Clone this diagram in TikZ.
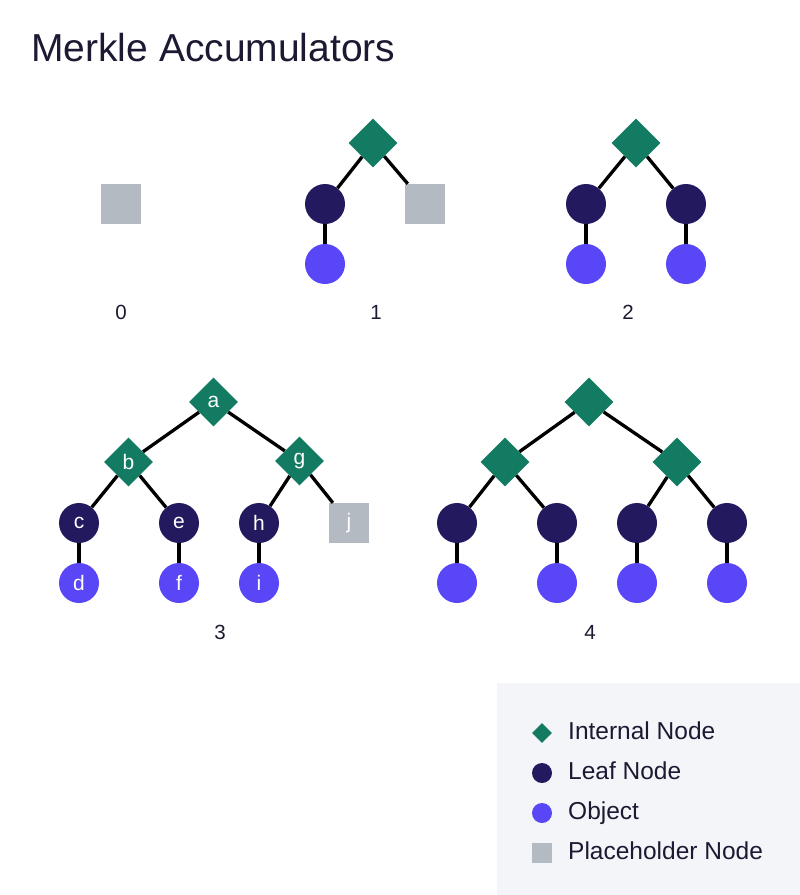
\documentclass[tikz,border=0pt]{standalone}
\usepackage{fontspec}
\setmainfont{Liberation Sans}
\usetikzlibrary{shapes.geometric}
\definecolor{intc}{HTML}{127B62}
\definecolor{leafc}{HTML}{22195E}
\definecolor{objc}{HTML}{5946F6}
\definecolor{phc}{HTML}{B4BAC1}
\definecolor{txtc}{HTML}{1C1A33}
\definecolor{legbg}{HTML}{F4F5F9}
\tikzset{
  intn/.style={diamond, aspect=1, fill=intc, minimum size=49pt, inner sep=0pt, text=white, font=\fontsize{21}{24}\selectfont},
  leafn/.style={circle, fill=leafc, minimum size=40pt, inner sep=0pt, text=white, font=\fontsize{21}{24}\selectfont},
  objn/.style={circle, fill=objc, minimum size=40pt, inner sep=0pt, text=white, font=\fontsize{21}{24}\selectfont},
  phn/.style={rectangle, fill=phc, minimum size=40pt, inner sep=0pt, text=white, font=\fontsize{21}{24}\selectfont},
  edge/.style={line width=3.3pt, black},
  lbl/.style={text=txtc, font=\fontsize{20.5}{24}\selectfont},
  legtxt/.style={text=txtc, font=\fontsize{24.5}{28}\selectfont, anchor=base west, inner sep=0pt},
}
\begin{document}
\begin{tikzpicture}[x=1pt,y=-1pt]
\useasboundingbox (0,0) rectangle (800,895);
\fill[white] (0,0) rectangle (800,895);
\node[anchor=base west, text=txtc, font=\fontsize{39}{44}\selectfont, inner sep=0pt] (title) at (31,61) {Merkle Accumulators};

% tree 0
\node[phn] (p0) at (121,204) {};
\node[lbl] (l0) at (121,312) {0};

% tree 1
\node[intn] (r1) at (373,143) {};
\node[leafn] (a1) at (325,204) {};
\node[objn] (o1) at (325,264) {};
\node[phn] (p1) at (425,204) {};
\node[lbl] (l1) at (376,312) {1};

% tree 2
\node[intn] (r2) at (636,143) {};
\node[leafn] (a2) at (586,204) {};
\node[leafn] (b2) at (686,204) {};
\node[objn] (o2a) at (586,264) {};
\node[objn] (o2b) at (686,264) {};
\node[lbl] (l2) at (628,312) {2};

% tree 3
\node[intn] (na) at (213.5,402) {a};
\node[intn] (nb) at (128.5,462) {b};
\node[intn] (ng) at (299.5,461) {g};
\node[leafn] (nc) at (79,523) {c};
\node[leafn] (ne) at (179,523) {e};
\node[leafn] (nh) at (259,523) {h};
\node[phn] (nj) at (349,523) {j};
\node[objn] (nd) at (79,583) {d};
\node[objn] (nf) at (179,583) {f};
\node[objn] (ni) at (259,583) {i};
\node[lbl] (l3) at (220,632) {3};

% tree 4
\node[intn] (r4) at (589,402) {};
\node[intn] (x4) at (505,462) {};
\node[intn] (y4) at (677,462) {};
\node[leafn] (q1) at (457,523) {};
\node[leafn] (q2) at (557,523) {};
\node[leafn] (q3) at (637,523) {};
\node[leafn] (q4) at (727,523) {};
\node[objn] (s1) at (457,583) {};
\node[objn] (s2) at (557,583) {};
\node[objn] (s3) at (637,583) {};
\node[objn] (s4) at (727,583) {};
\node[lbl] (l4) at (590,632) {4};

% edges
\draw[edge] (r1) -- (a1);
\draw[edge] (r1) -- (p1);
\draw[edge] (a1) -- (o1);
\draw[edge] (r2) -- (a2);
\draw[edge] (r2) -- (b2);
\draw[edge] (a2) -- (o2a);
\draw[edge] (b2) -- (o2b);
\draw[edge] (na) -- (nb);
\draw[edge] (na) -- (ng);
\draw[edge] (nb) -- (nc);
\draw[edge] (nb) -- (ne);
\draw[edge] (ng) -- (nh);
\draw[edge] (ng) -- (nj);
\draw[edge] (nc) -- (nd);
\draw[edge] (ne) -- (nf);
\draw[edge] (nh) -- (ni);
\draw[edge] (r4) -- (x4);
\draw[edge] (r4) -- (y4);
\draw[edge] (x4) -- (q1);
\draw[edge] (x4) -- (q2);
\draw[edge] (y4) -- (q3);
\draw[edge] (y4) -- (q4);
\draw[edge] (q1) -- (s1);
\draw[edge] (q2) -- (s2);
\draw[edge] (q3) -- (s3);
\draw[edge] (q4) -- (s4);

% legend
\fill[legbg] (497,683) rectangle (800,895);
\node[diamond, aspect=1, fill=intc, minimum size=20pt, inner sep=0pt] (k1) at (542,733) {};
\node[circle, fill=leafc, minimum size=20pt, inner sep=0pt] (k2) at (542,773) {};
\node[circle, fill=objc, minimum size=20pt, inner sep=0pt] (k3) at (542,813) {};
\node[rectangle, fill=phc, minimum size=20pt, inner sep=0pt] (k4) at (542,853) {};
\node[legtxt] (t1) at (568,739.5) {Internal Node};
\node[legtxt] (t2) at (568,779.5) {Leaf Node};
\node[legtxt] (t3) at (568,819.5) {Object};
\node[legtxt] (t4) at (568,859.5) {Placeholder Node};
\end{tikzpicture}
\end{document}
